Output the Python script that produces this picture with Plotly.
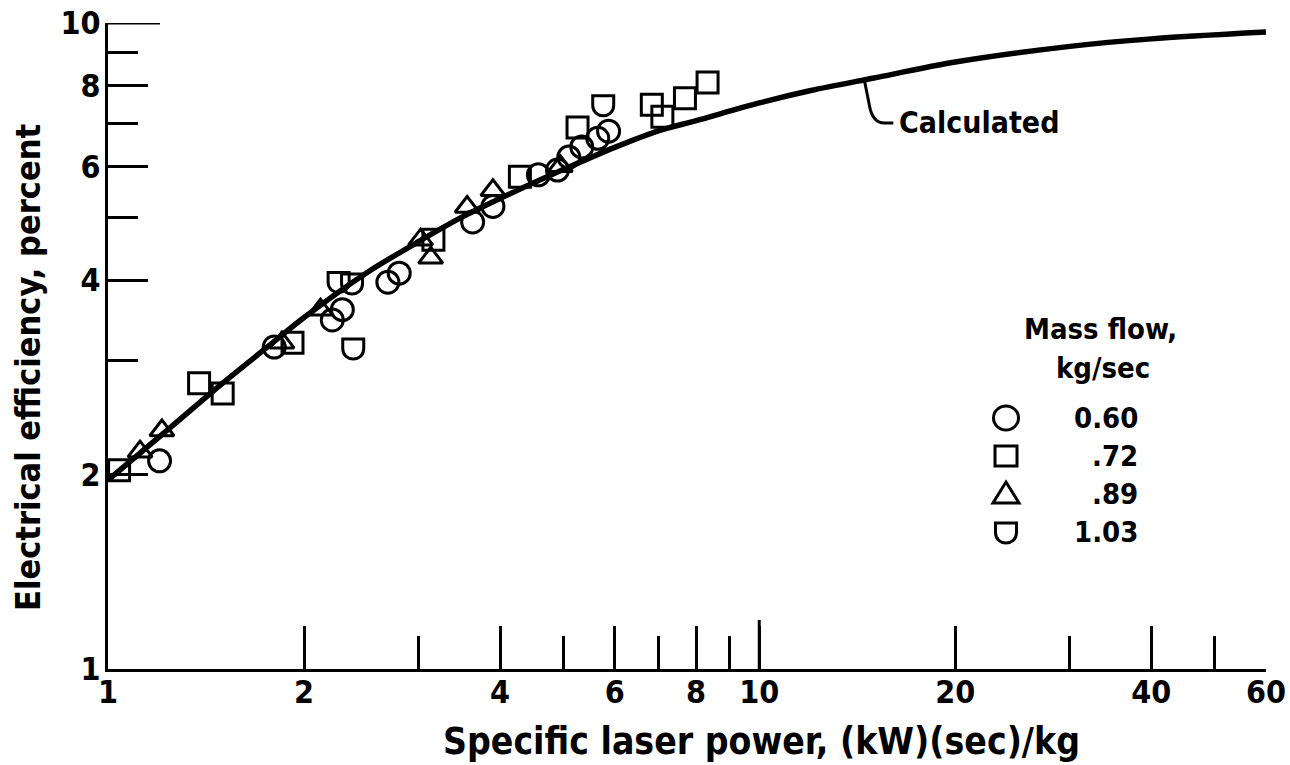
import math
import plotly.graph_objects as go

# ---------------- data ----------------
# Calculated curve
calc_x = [1, 1.25, 1.5, 1.75, 2, 2.5, 3, 3.5, 4, 5, 6, 7, 8, 10, 12, 15, 20, 30, 40, 60]
calc_y = [1.96, 2.37, 2.77, 3.14, 3.5, 4.11, 4.59, 5.01, 5.35, 5.93, 6.42, 6.81, 7.06,
          7.52, 7.86, 8.22, 8.7, 9.2, 9.45, 9.68]

# Mass flow 0.60 kg/sec (circles)
flow060_x = [1.2, 1.8, 2.21, 2.29, 2.69, 2.8, 3.63, 3.9, 4.58, 4.9, 5.1, 5.34, 5.65, 5.87]
flow060_y = [2.1, 3.15, 3.47, 3.6, 3.97, 4.1, 4.92, 5.2, 5.82, 5.92, 6.2, 6.43, 6.63, 6.8]

# Mass flow 0.72 kg/sec (squares)
flow072_x = [1.04, 1.38, 1.5, 1.92, 3.16, 4.29, 5.26, 6.84, 7.1, 7.69, 8.33]
flow072_y = [2.03, 2.77, 2.67, 3.2, 4.62, 5.78, 6.89, 7.47, 7.16, 7.65, 8.09]

# Mass flow 0.89 kg/sec (triangles)
flow089_x = [1.12, 1.21, 1.85, 2.12, 3.02, 3.13, 3.56, 3.9, 4.95]
flow089_y = [2.17, 2.34, 3.2, 3.6, 4.62, 4.33, 5.19, 5.51, 6.0]

# Mass flow 1.03 kg/sec (cups)
flow103_x = [2.26, 2.37, 2.38, 5.76]
flow103_y = [3.98, 3.96, 3.14, 7.47]

legend_title = ["Mass flow,", "kg/sec"]
legend_labels = ["0.60", ".72", ".89", "1.03"]
x_tick_vals = [1, 2, 4, 6, 8, 10, 20, 40, 60]
x_minor_vals = [3, 5, 7, 9, 30, 50]
y_tick_vals = [1, 2, 4, 6, 8, 10]
y_minor_vals = [3, 5, 7, 9]
curve_label = "Calculated"
curve_label_at = (14.5, 8.16)
x_title = "Specific laser power, (kW)(sec)/kg"
y_title = "Electrical efficiency, percent"

# ---------------- layout geometry ----------------
WIDTH, HEIGHT = 1290, 765
ML, MR, MT, MB = 108, 24, 23, 96
PW = WIDTH - ML - MR
PH = HEIGHT - MT - MB


def px(xp):
    return (xp - ML) / PW


def py(yp):
    return (HEIGHT - MB - yp) / PH


COND = "DejaVu Sans Condensed, DejaVu Sans, sans-serif"
BLACK = "black"

CUP = "M -10.5,9 L 10.5,9 L 10.5,-0.5 C 10.5,-14.5 -10.5,-14.5 -10.5,-0.5 Z"
TRI = "M -13,-9 L 13,-9 L 0,12 Z"

fig = go.Figure()

fig.add_trace(go.Scatter(
    x=calc_x, y=calc_y, mode="lines",
    line=dict(color=BLACK, width=5.5, shape="spline", smoothing=0.8),
    cliponaxis=False, showlegend=False, hoverinfo="skip"))

for xs, ys, sym, size in [
    (flow060_x, flow060_y, "circle-open", 22),
    (flow072_x, flow072_y, "square-open", 21),
    (flow089_x, flow089_y, "triangle-up-open", 21),
]:
    fig.add_trace(go.Scatter(
        x=xs, y=ys, mode="markers", cliponaxis=False, showlegend=False,
        marker=dict(symbol=sym, size=size, color=BLACK, line=dict(width=3, color=BLACK))))

shapes = []
for xv, yv in zip(flow103_x, flow103_y):
    shapes.append(dict(type="path", xref="x", yref="y", xsizemode="pixel", ysizemode="pixel",
                       xanchor=xv, yanchor=yv, path=CUP, line=dict(color=BLACK, width=3)))

# longer tick at x=10 and y=10
shapes.append(dict(type="line", xref="x", yref="y", ysizemode="pixel", yanchor=1,
                   x0=10, x1=10, y0=0, y1=49, line=dict(color=BLACK, width=3)))
shapes.append(dict(type="line", xref="x", yref="y", xsizemode="pixel", xanchor=1,
                   x0=0, x1=52, y0=10, y1=10, line=dict(color=BLACK, width=3)))

# leader line for "Calculated"
shapes.append(dict(type="path", xref="x", yref="y", xsizemode="pixel", ysizemode="pixel",
                   xanchor=curve_label_at[0], yanchor=curve_label_at[1],
                   path="M 0,0 L 5,-25 Q 8,-43 20,-43 L 29,-43",
                   line=dict(color=BLACK, width=3)))

# legend symbols
leg_sym_x = px(1006)
leg_rows = [418, 456, 494, 532]
shapes.append(dict(type="circle", xref="paper", yref="paper", xsizemode="pixel", ysizemode="pixel",
                   xanchor=leg_sym_x, yanchor=py(leg_rows[0]), x0=-12.5, x1=12.5, y0=-12, y1=12,
                   line=dict(color=BLACK, width=3)))
shapes.append(dict(type="rect", xref="paper", yref="paper", xsizemode="pixel", ysizemode="pixel",
                   xanchor=leg_sym_x, yanchor=py(leg_rows[1]), x0=-11, x1=11, y0=-10, y1=10,
                   line=dict(color=BLACK, width=3)))
shapes.append(dict(type="path", xref="paper", yref="paper", xsizemode="pixel", ysizemode="pixel",
                   xanchor=leg_sym_x, yanchor=py(leg_rows[2]), path=TRI,
                   line=dict(color=BLACK, width=3)))
shapes.append(dict(type="path", xref="paper", yref="paper", xsizemode="pixel", ysizemode="pixel",
                   xanchor=leg_sym_x, yanchor=py(leg_rows[3]), path=CUP,
                   line=dict(color=BLACK, width=3)))

LBL = dict(family=COND, size=30, color=BLACK, weight="bold")
LEG = dict(family=COND, size=29, color=BLACK, weight="bold")
annotations = []
annotations.append(dict(text=curve_label, x=math.log10(curve_label_at[0]), y=math.log10(curve_label_at[1]),
                        xref="x", yref="y", xanchor="left", yanchor="middle", xshift=33, yshift=-42,
                        showarrow=False, font=LBL))
annotations.append(dict(text=legend_title[0], x=px(1100), y=py(329), xref="paper", yref="paper",
                        xanchor="center", yanchor="middle", showarrow=False, font=LEG))
annotations.append(dict(text=legend_title[1], x=px(1103), y=py(368), xref="paper", yref="paper",
                        xanchor="center", yanchor="middle", showarrow=False, font=LEG))
for lab, row in zip(legend_labels, leg_rows):
    annotations.append(dict(text=lab, x=px(1140), y=py(row), xref="paper", yref="paper",
                            xanchor="right", yanchor="middle", showarrow=False, font=LEG))
annotations.append(dict(text=x_title, x=px(761), y=py(741), xref="paper", yref="paper",
                        xanchor="center", yanchor="middle", showarrow=False,
                        font=dict(family=COND, size=37, color=BLACK, weight="bold")))
annotations.append(dict(text=y_title, x=px(28), y=py(368), xref="paper", yref="paper",
                        xanchor="center", yanchor="middle", textangle=-90, showarrow=False,
                        font=dict(family=COND, size=34, color=BLACK, weight="bold")))

tickfont = dict(family=COND, size=32, color=BLACK, weight="bold")

fig.update_layout(
    width=WIDTH, height=HEIGHT,
    margin=dict(l=ML, r=MR, t=MT, b=MB, pad=0, autoexpand=False),
    paper_bgcolor="white", plot_bgcolor="white",
    showlegend=False,
    shapes=shapes, annotations=annotations,
    xaxis=dict(type="log", range=[0, math.log10(60)], tickmode="array",
               tickvals=x_tick_vals, ticktext=[str(v) for v in x_tick_vals],
               ticks="inside", ticklen=43, tickwidth=3, tickcolor=BLACK,
               showline=True, linewidth=3, linecolor=BLACK, showgrid=False, zeroline=False,
               tickfont=tickfont, ticklabelstandoff=-7,
               minor=dict(tickmode="array", tickvals=x_minor_vals, ticks="inside", ticklen=33,
                          tickwidth=3, tickcolor=BLACK, showgrid=False)),
    yaxis=dict(type="log", range=[0, 1], tickmode="array",
               tickvals=y_tick_vals, ticktext=[str(v) for v in y_tick_vals],
               ticks="inside", ticklen=40, tickwidth=3, tickcolor=BLACK,
               showline=True, linewidth=3, linecolor=BLACK, showgrid=False, zeroline=False,
               tickfont=tickfont, ticklabelstandoff=-2,
               minor=dict(tickmode="array", tickvals=y_minor_vals, ticks="inside", ticklen=30,
                          tickwidth=3, tickcolor=BLACK, showgrid=False)),
)

fig.write_html("out.html", config={"displayModeBar": False},
               post_script="document.body.style.margin='0';")
